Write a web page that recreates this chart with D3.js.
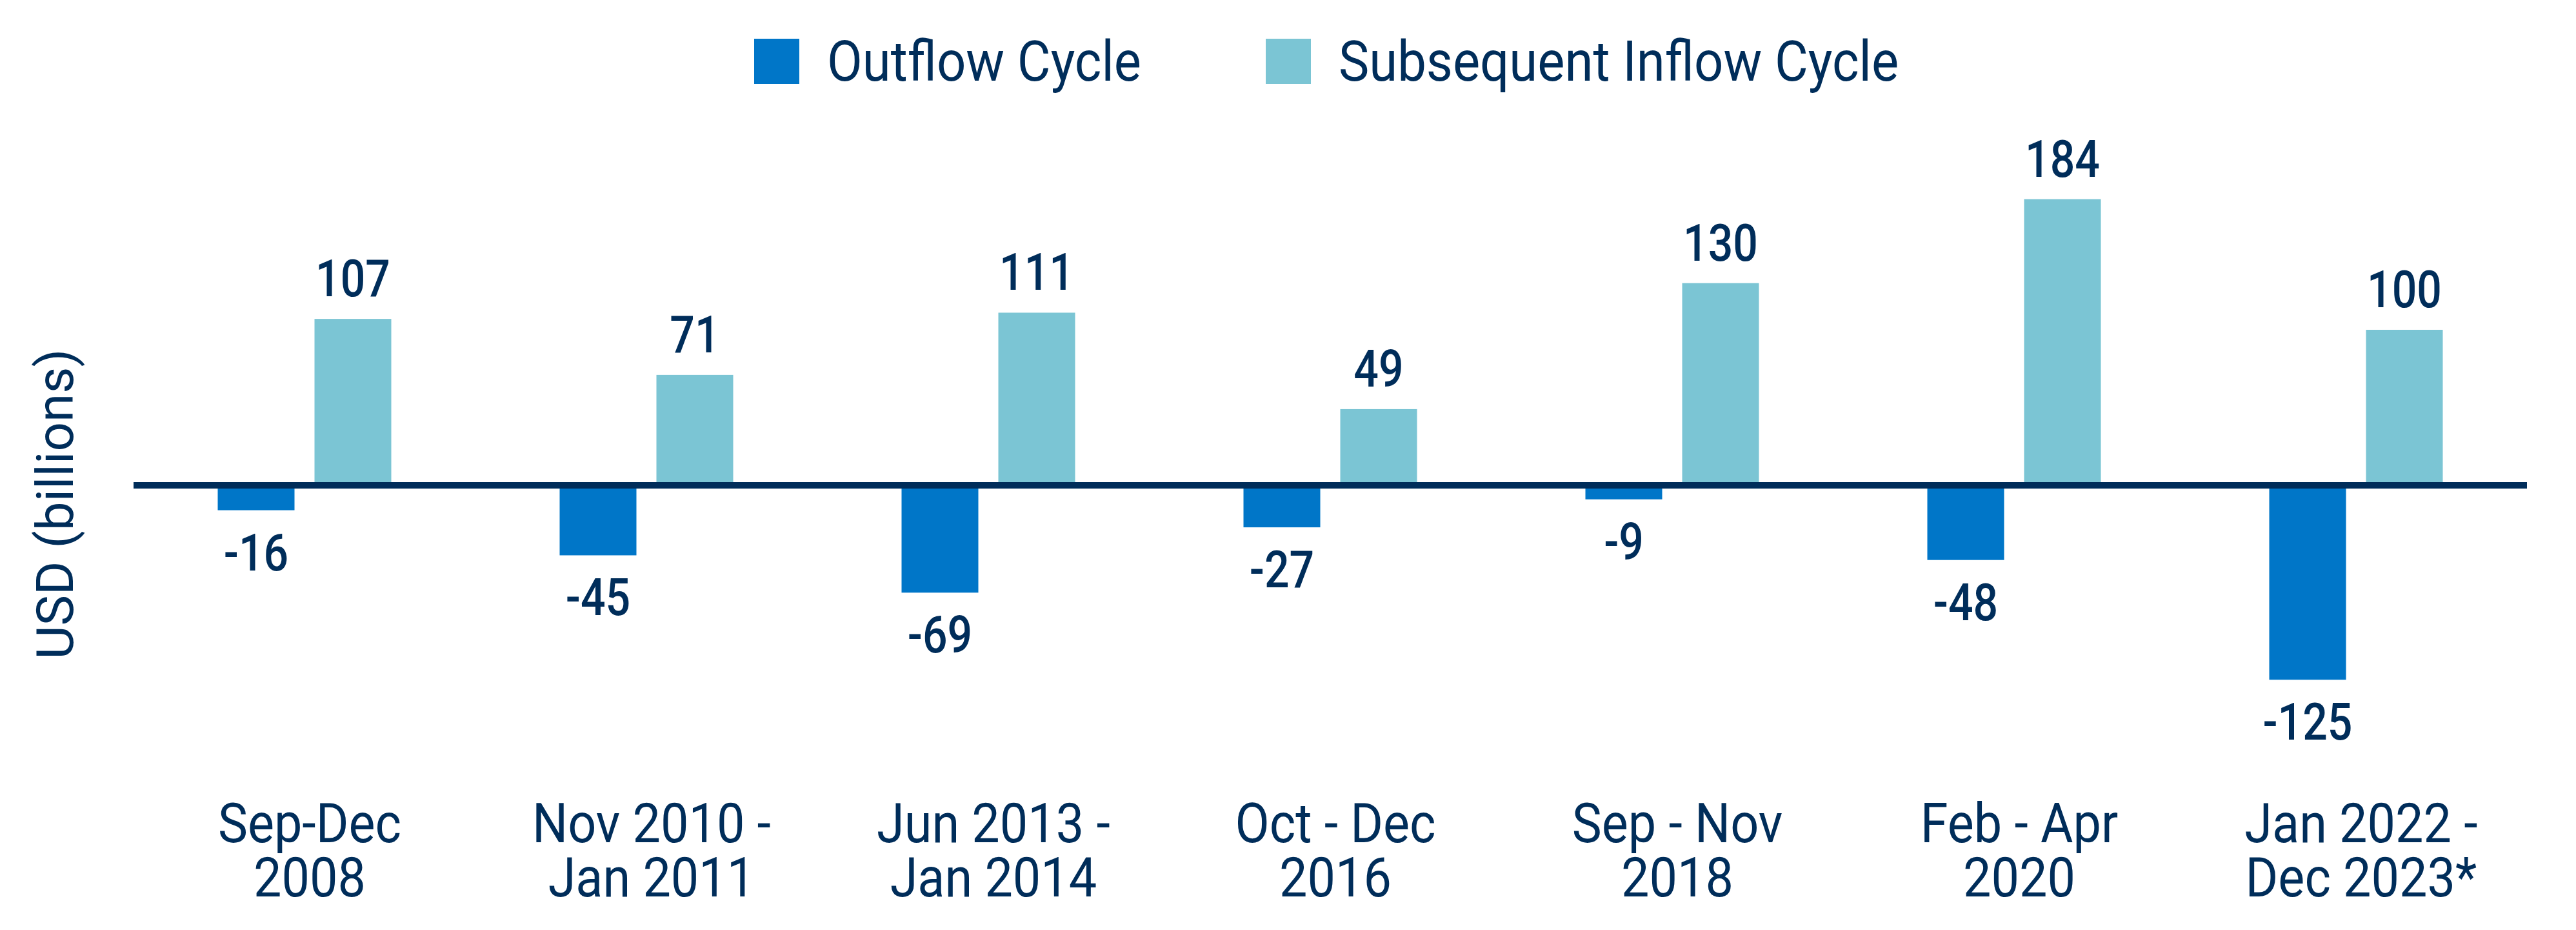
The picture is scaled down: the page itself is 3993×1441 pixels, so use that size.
<!DOCTYPE html>
<html>
<head>
<meta charset="utf-8">
<script src="https://cdn.jsdelivr.net/npm/d3@7"></script>
<style>
  html, body { margin: 0; padding: 0; background: #fff; }
  svg { display: block; font-family: Roboto, "Noto Sans", sans-serif; }
</style>
</head>
<body>
<div id="chart"></div>
<script>
const categories = ['Sep-Dec 2008', 'Nov 2010 - Jan 2011', 'Jun 2013 - Jan 2014', 'Oct - Dec 2016', 'Sep - Nov 2018', 'Feb - Apr 2020', 'Jan 2022 - Dec 2023*'];
const categoryLines = [['Sep-Dec', '2008'], ['Nov 2010 -', 'Jan 2011'], ['Jun 2013 -', 'Jan 2014'], ['Oct - Dec', '2016'], ['Sep - Nov', '2018'], ['Feb - Apr', '2020'], ['Jan 2022 -', 'Dec 2023*']];
const seriesNames = ['Outflow Cycle', 'Subsequent Inflow Cycle'];
const outflow = [-16, -45, -69, -27, -9, -48, -125];
const inflow = [107, 71, 111, 49, 130, 184, 100];
const yLabel = 'USD (billions)';

(function () {
  const W = 3993, H = 1441;
  const navy = '#002D5A';
  const colors = { 'Outflow Cycle': '#0076C8', 'Subsequent Inflow Cycle': '#7BC5D4' };
  const svg = d3.select('#chart').append('svg').attr('width', W).attr('height', H);

  const x0 = d3.scaleBand().domain(categories).range([207, 3917]).padding(0);
  const x1 = d3.scaleBand().domain(seriesNames).range([130.5, 399.5]).paddingInner(0.2067);
  const y = d3.scaleLinear().domain([0, 100]).range([752, 752 - 241]);

  const rows = categories.map((c, i) => ({
    cat: c,
    lines: categoryLines[i],
    values: [{ key: seriesNames[0], v: outflow[i] }, { key: seriesNames[1], v: inflow[i] }],
  }));

  // legend
  const leg = svg.append('g');
  const legX = [1169, 1962];
  seriesNames.forEach((s, i) => {
    leg.append('rect').attr('x', legX[i]).attr('y', 60).attr('width', 70).attr('height', 70).attr('fill', colors[s]);
    leg.append('g').attr('transform', `translate(${legX[i] + 113},125) scale(0.915,1)`)
      .append('text').attr('fill', navy).attr('font-size', 87).attr('font-weight', 400).text(s);
  });

  // y axis title
  svg.append('text').attr('transform', 'translate(113,781) rotate(-90)').attr('text-anchor', 'middle')
    .attr('fill', navy).attr('font-size', 80).attr('font-weight', 400).text(yLabel);

  // bars
  const grp = svg.append('g').selectAll('g').data(rows).join('g')
    .attr('transform', (d) => `translate(${x0(d.cat)},0)`);
  grp.selectAll('rect').data((d) => d.values).join('rect')
    .attr('x', (d) => x1(d.key))
    .attr('y', (d) => Math.min(y(d.v), y(0)))
    .attr('width', x1.bandwidth())
    .attr('height', (d) => Math.abs(y(d.v) - y(0)))
    .attr('fill', (d) => colors[d.key]);

  // value labels
  grp.selectAll('g.val').data((d) => d.values).join('g').attr('class', 'val')
    .attr('transform', (d) => `translate(${x1(d.key) + x1.bandwidth() / 2},${d.v >= 0 ? y(d.v) - 35 : y(d.v) + 93}) scale(0.85,1)`)
    .append('text').attr('text-anchor', 'middle').attr('fill', navy)
    .attr('font-size', 80).attr('font-weight', 500).text((d) => d.v);

  // zero line
  svg.append('line').attr('x1', x0.range()[0]).attr('x2', x0.range()[1])
    .attr('y1', y(0)).attr('y2', y(0)).attr('stroke', navy).attr('stroke-width', 10);

  // category labels, one text per line
  const cat = svg.append('g').selectAll('g').data(rows).join('g')
    .attr('transform', (d) => `translate(${x0(d.cat) + x0.bandwidth() / 2 + 8},1305)`);
  cat.selectAll('g').data((d) => d.lines).join('g')
    .attr('transform', (d, i) => `translate(0,${i * 84}) scale(0.9,1)`)
    .append('text').attr('text-anchor', 'middle').attr('fill', navy)
    .attr('font-size', 86).attr('font-weight', 400).text((d) => d);
})();
</script>
</body>
</html>
